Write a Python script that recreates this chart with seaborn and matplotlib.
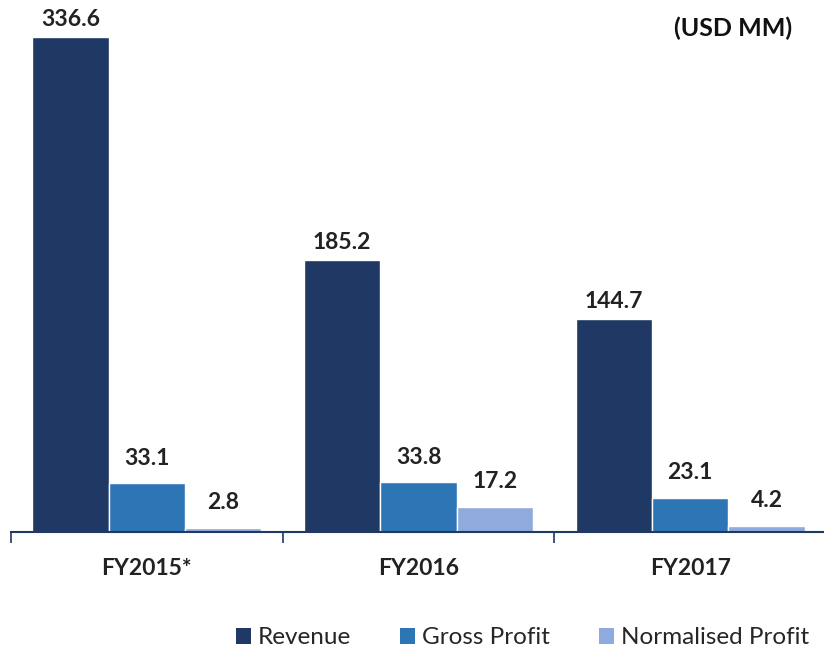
import matplotlib
matplotlib.use("Agg")
import matplotlib.pyplot as plt
import seaborn as sns
import pandas as pd
from matplotlib.patches import Patch

years = ["FY2015*", "FY2016", "FY2017"]
series = ["Revenue", "Gross Profit", "Normalised Profit"]
revenue = [336.6, 185.2, 144.7]
gross_profit = [33.1, 33.8, 23.1]
normalised_profit = [2.8, 17.2, 4.2]
colors = ["#1F3864", "#2E75B6", "#8FAADC"]
unit_label = "(USD MM)"

df = pd.DataFrame({
    "Year": years * 3,
    "Series": [s for s in series for _ in years],
    "Value": revenue + gross_profit + normalised_profit,
})

sns.set_theme(style="white")
plt.rcParams["font.family"] = ["Lato", "DejaVu Sans"]

fig = plt.figure(figsize=(8.24, 6.51), dpi=100)
ax = fig.add_axes([11 / 824, (651 - 532) / 651, 815 / 824, 529.4 / 651])

sns.barplot(data=df, x="Year", y="Value", hue="Series", order=years,
            hue_order=series, palette=colors, width=0.843, gap=0,
            edgecolor="white", linewidth=1, saturation=1, ax=ax, legend=False)

ax.set_xlim(-0.5, 2.5)
ax.set_ylim(0, 360)
ax.set_xlabel("")
ax.set_ylabel("")
ax.set_yticks([])
for s in ["top", "right", "left"]:
    ax.spines[s].set_visible(False)
ax.spines["bottom"].set_color("#1F3864")
ax.spines["bottom"].set_linewidth(1.5)

ax.tick_params(axis="x", which="major", length=0, pad=19, labelsize=16.5,
               labelcolor="#222222")
for lbl in ax.get_xticklabels():
    lbl.set_fontweight("bold")
ax.set_xticks([-0.5, 0.5, 1.5], minor=True)
ax.tick_params(axis="x", which="minor", length=8, width=1.2, color="#1F3864",
               direction="out", bottom=True)

offsets = [8, 13.5, 13.5]
for cont, off in zip(ax.containers, offsets):
    for bar in cont:
        h = bar.get_height()
        ax.annotate(f"{h:.1f}", (bar.get_x() + bar.get_width() / 2, h),
                    xytext=(0, off), textcoords="offset points",
                    ha="center", va="baseline", fontsize=16.5,
                    fontweight="bold", color="#222222", annotation_clip=False)

fig.text(733 / 824, 1 - 28 / 651, unit_label, ha="center", va="center",
         fontsize=18, fontweight="bold", color="#111111")

handles = [Patch(facecolor=c, edgecolor="none") for c in colors]
fig.legend(handles, series, loc="center", bbox_to_anchor=(522.5 / 824, 1 - 638 / 651),
           ncol=3, frameon=False, fontsize=17.5, handlelength=0.62,
           handleheight=0.62, handletextpad=0.29, columnspacing=2.0,
           labelcolor="#262626", borderpad=0, borderaxespad=0)

fig.savefig("out.png", dpi=100)
